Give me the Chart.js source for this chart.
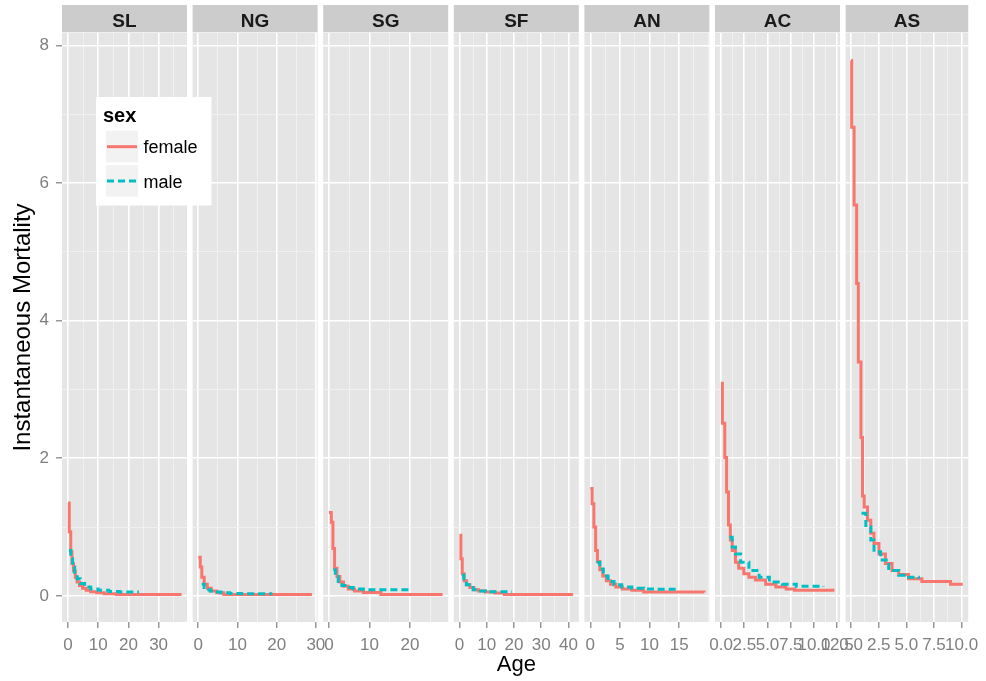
<!DOCTYPE html>
<html>
<head>
<meta charset="utf-8">
<script src="https://cdn.jsdelivr.net/npm/chart.js@4.4.1/dist/chart.umd.min.js"></script>
<style>
  html, body { margin: 0; padding: 0; background: #fff; }
  #wrap { position: relative; width: 986px; height: 681px; }
  #wrap canvas { position: absolute; left: 0; top: 0; }
</style>
</head>
<body>
<div id="wrap"></div>
<script>
// facets and legend groups
const panels = ['SL', 'NG', 'SG', 'SF', 'AN', 'AC', 'AS']
const sexes = ['female', 'male']
const yTicks = [0, 2, 4, 6, 8]

// step data: age where each step starts, and the mortality on that step
const slFemaleAge = [0, 0.4, 0.9, 1.3, 1.8, 2.4, 3.0, 3.8, 4.8, 6.0, 7.5, 9.5, 12.0, 16.0, 37.6]
const slFemale    = [1.35, 0.93, 0.64, 0.47, 0.36, 0.27, 0.20, 0.15, 0.11, 0.08, 0.06, 0.045, 0.03, 0.02, 0.02]
const slMaleAge = [0.3, 0.9, 1.5, 2.2, 3.0, 4.0, 5.5, 7.5, 10.0, 13.5, 17.0, 23.5]
const slMale    = [0.66, 0.54, 0.42, 0.32, 0.25, 0.18, 0.13, 0.10, 0.08, 0.065, 0.055, 0.055]

const ngFemaleAge = [0, 0.5, 0.9, 1.5, 2.3, 3.3, 4.7, 6.5, 29.0]
const ngFemale    = [0.56, 0.42, 0.27, 0.17, 0.11, 0.07, 0.045, 0.02, 0.02]
const ngMaleAge = [0.9, 1.5, 2.2, 3.0, 4.2, 5.8, 8.0, 11.0, 18.9]
const ngMale    = [0.17, 0.12, 0.09, 0.07, 0.055, 0.045, 0.035, 0.03, 0.03]

const sgFemaleAge = [0, 0.6, 1.0, 1.4, 2.0, 2.7, 3.6, 4.8, 6.3, 8.5, 12.8, 28.0]
const sgFemale    = [1.21, 1.07, 0.69, 0.40, 0.28, 0.20, 0.14, 0.10, 0.07, 0.05, 0.02, 0.02]
const sgMaleAge = [1.1, 1.6, 2.3, 3.2, 4.4, 6.0, 8.5, 19.8]
const sgMale    = [0.38, 0.28, 0.21, 0.15, 0.12, 0.10, 0.09, 0.09]

const sfFemaleAge = [0, 0.5, 1.0, 1.7, 2.6, 3.8, 5.3, 7.0, 9.5, 13.0, 16.5, 41.7]
const sfFemale    = [0.88, 0.54, 0.32, 0.22, 0.16, 0.12, 0.09, 0.07, 0.055, 0.04, 0.02, 0.02]
const sfMaleAge = [0.9, 1.6, 2.5, 3.5, 5.0, 7.0, 9.5, 19.3]
const sfMale    = [0.30, 0.21, 0.16, 0.12, 0.09, 0.07, 0.06, 0.06]

const anFemaleAge = [0, 0.3, 0.6, 0.9, 1.2, 1.6, 2.1, 2.7, 3.4, 4.3, 5.4, 7.0, 9.0, 19.2]
const anFemale    = [1.56, 1.34, 1.00, 0.66, 0.50, 0.38, 0.29, 0.22, 0.17, 0.13, 0.10, 0.08, 0.055, 0.05]
const anMaleAge = [1.1, 1.6, 2.2, 3.0, 4.0, 5.3, 7.0, 9.0, 11.0, 15.0]
const anMale    = [0.49, 0.39, 0.29, 0.21, 0.16, 0.13, 0.11, 0.10, 0.095, 0.095]

const acFemaleAge = [0, 0.15, 0.4, 0.6, 0.8, 1.0, 1.2, 1.55, 1.9, 2.45, 3.0, 3.7, 4.8, 5.9, 7.0, 7.9, 12.2]
const acFemale    = [3.09, 2.51, 2.01, 1.51, 1.03, 0.81, 0.66, 0.49, 0.40, 0.32, 0.27, 0.23, 0.17, 0.13, 0.10, 0.08, 0.08]
const acMaleAge = [0.9, 1.2, 1.55, 2.1, 3.0, 4.1, 5.2, 6.6, 8.1, 11.0]
const acMale    = [0.85, 0.71, 0.61, 0.49, 0.37, 0.27, 0.20, 0.17, 0.14, 0.13]

const asFemaleAge = [0, 0.05, 0.27, 0.5, 0.65, 0.89, 1.03, 1.18, 1.48, 1.78, 2.07, 2.52, 3.1, 3.7, 4.3, 5.2, 6.4, 9.0, 10.1]
const asFemale    = [7.78, 6.81, 5.68, 4.54, 3.40, 2.30, 1.45, 1.29, 1.10, 0.91, 0.76, 0.61, 0.47, 0.37, 0.31, 0.25, 0.21, 0.17, 0.17]
const asMaleAge = [0.94, 1.33, 1.78, 2.07, 2.67, 3.4, 4.3, 5.2, 6.1]
const asMale    = [1.20, 1.00, 0.81, 0.64, 0.52, 0.37, 0.30, 0.27, 0.25]

// x tick values and labels per facet
const slTicks = [0, 10, 20, 30]
const ngTicks = [0, 10, 20, 30]
const sgTicks = [0, 10, 20]
const sfTicks = [0, 10, 20, 30, 40]
const anTicks = [0, 5, 10, 15]
const acTicks = [0, 2.5, 5, 7.5, 10, 12.5]
const asTicks = [0, 2.5, 5, 7.5, 10]
const acTickLabels = ['0.0', '2.5', '5.0', '7.5', '10.0', '12.5']
const asTickLabels = ['0.0', '2.5', '5.0', '7.5', '10.0']

// x axis limits per facet
const xLimits = [[-2.0, 39.4], [-1.45, 30.45], [-1.4, 29.4], [-2.1, 43.8], [-1.0, 20.1], [-0.65, 12.8], [-0.5, 10.6]]
const yLimits = [-0.38, 8.18]

const femaleAges = [slFemaleAge, ngFemaleAge, sgFemaleAge, sfFemaleAge, anFemaleAge, acFemaleAge, asFemaleAge]
const femaleVals = [slFemale, ngFemale, sgFemale, sfFemale, anFemale, acFemale, asFemale]
const maleAges = [slMaleAge, ngMaleAge, sgMaleAge, sfMaleAge, anMaleAge, acMaleAge, asMaleAge]
const maleVals = [slMale, ngMale, sgMale, sfMale, anMale, acMale, asMale]
const xTicks = [slTicks, ngTicks, sgTicks, sfTicks, anTicks, acTicks, asTicks]
const xTickLabels = [slTicks.map(String), ngTicks.map(String), sgTicks.map(String), sfTicks.map(String),
                     anTicks.map(String), acTickLabels, asTickLabels]

const W = 986, H = 681
const PLOT_LEFT = 62, PANEL_W = 125, PANEL_STEP = 130.6
const FONT = '"Liberation Sans", Arial, Helvetica, sans-serif'
const COLORS = { female: '#F8766D', male: '#00BFC4' }

const near = (a, b) => Math.abs(a - b) < 1e-6

// grey panel + facet strip
const facetPlugin = {
  id: 'facet',
  beforeDraw(chart, args, opts) {
    const { ctx, chartArea: a } = chart
    ctx.save()
    ctx.fillStyle = '#E5E5E5'
    ctx.fillRect(a.left, a.top, a.right - a.left, a.bottom - a.top)
    ctx.fillStyle = '#CCCCCC'
    ctx.fillRect(a.left, 5, a.right - a.left, 27.3)
    ctx.fillStyle = '#1A1A1A'
    ctx.font = 'bold 19px ' + FONT
    ctx.textAlign = 'center'
    ctx.textBaseline = 'alphabetic'
    ctx.fillText(opts.text, (a.left + a.right) / 2, 26.5)
    ctx.restore()
  }
}

// ggplot style legend box, drawn by the first facet
const sexLegend = {
  id: 'sexLegend',
  afterDraw(chart) {
    const ctx = chart.ctx
    ctx.save()
    ctx.fillStyle = '#FFFFFF'
    ctx.fillRect(96, 97, 115.5, 108.5)
    ctx.fillStyle = '#000'
    ctx.font = 'bold 20px ' + FONT
    ctx.textBaseline = 'alphabetic'
    ctx.fillText('sex', 103, 121.5)
    sexes.forEach((s, k) => {
      const ds = chart.data.datasets.find(d => d.label === s)
      const top = 130.7 + k * 34.3
      ctx.fillStyle = '#F2F2F2'
      ctx.fillRect(106, top, 32, 31.7)
      const y = top + 16
      ctx.strokeStyle = ds.borderColor
      ctx.lineWidth = ds.borderWidth
      ctx.setLineDash(ds.borderDash || [])
      ctx.beginPath()
      ctx.moveTo(107, y)
      ctx.lineTo(137, y)
      ctx.stroke()
      ctx.setLineDash([])
      ctx.fillStyle = '#000'
      ctx.font = '18px ' + FONT
      ctx.fillText(s, 143.5, top + 22.5)
    })
    ctx.restore()
  }
}

const wrap = document.getElementById('wrap')

panels.forEach((name, i) => {
  const left = PLOT_LEFT + i * PANEL_STEP
  const right = left + PANEL_W
  const canvas = document.createElement('canvas')
  canvas.width = W
  canvas.height = H
  canvas.style.zIndex = 20 - i
  wrap.appendChild(canvas)

  const ticks = xTicks[i]
  const [lo, hi] = xLimits[i]
  const half = (ticks[1] - ticks[0]) / 2
  const xGrid = []
  for (let v = ticks[0] - half; v <= hi + 1e-9; v += half) if (v >= lo) xGrid.push(v)
  const isMajorX = v => ticks.some(t => near(t, v))
  const yGrid = [0, 1, 2, 3, 4, 5, 6, 7, 8]
  const isMajorY = v => yTicks.some(t => near(t, v))

  const first = i === 0

  new Chart(canvas, {
    type: 'line',
    data: {
      datasets: [
        {
          label: 'female',
          data: femaleAges[i].map((x, k) => ({ x, y: femaleVals[i][k] })),
          borderColor: COLORS.female,
          borderWidth: 3,
          stepped: 'before',
          pointRadius: 0,
          fill: false,
          order: 1
        },
        {
          label: 'male',
          data: maleAges[i].map((x, k) => ({ x, y: maleVals[i][k] })),
          borderColor: COLORS.male,
          borderWidth: 3,
          borderDash: [7, 4],
          stepped: 'before',
          pointRadius: 0,
          fill: false,
          order: 0
        }
      ]
    },
    options: {
      responsive: false,
      animation: false,
      devicePixelRatio: 1,
      layout: { padding: { left: first ? 0 : left, right: W - right, top: 33, bottom: 0 } },
      plugins: {
        legend: { display: false },
        tooltip: { enabled: false },
        facet: { text: name }
      },
      scales: {
        x: {
          type: 'linear',
          min: lo,
          max: hi,
          afterBuildTicks: s => { s.ticks = xGrid.map(v => ({ value: v })) },
          afterFit: s => { s.height = 59 },
          border: { display: false },
          grid: {
            color: c => isMajorX(c.tick.value) ? '#FFFFFF' : '#F2F2F2',
            lineWidth: c => isMajorX(c.tick.value) ? 1.6 : 0.8,
            tickColor: c => isMajorX(c.tick.value) ? '#7F7F7F' : 'rgba(0,0,0,0)',
            tickLength: 6,
            tickWidth: 1.2
          },
          ticks: {
            autoSkip: false,
            maxRotation: 0,
            minRotation: 0,
            padding: 7,
            color: '#7F7F7F',
            font: { size: 17, family: FONT },
            callback: v => {
              const k = ticks.findIndex(t => near(t, v))
              return k < 0 ? '' : xTickLabels[i][k]
            }
          },
          title: {
            display: i === 3,
            text: 'Age',
            color: '#000',
            font: { size: 22, family: FONT },
            padding: { top: 0, bottom: 3 }
          }
        },
        y: {
          min: yLimits[0],
          max: yLimits[1],
          afterBuildTicks: s => { s.ticks = yGrid.map(v => ({ value: v })) },
          afterFit: s => { s.width = first ? PLOT_LEFT : 0 },
          border: { display: false },
          grid: {
            color: c => isMajorY(c.tick.value) ? '#FFFFFF' : '#F2F2F2',
            lineWidth: c => isMajorY(c.tick.value) ? 1.6 : 0.8,
            tickColor: c => isMajorY(c.tick.value) ? '#7F7F7F' : 'rgba(0,0,0,0)',
            drawTicks: first,
            tickLength: 6,
            tickWidth: 1.2
          },
          ticks: {
            display: first,
            padding: 7,
            color: '#7F7F7F',
            font: { size: 17, family: FONT },
            callback: v => isMajorY(v) ? String(v) : ''
          },
          title: {
            display: first,
            text: 'Instantaneous Mortality',
            color: '#000',
            font: { size: 24, family: FONT },
            padding: { top: 9, bottom: 0 }
          }
        }
      }
    },
    plugins: first ? [facetPlugin, sexLegend] : [facetPlugin]
  })
})
</script>
</body>
</html>
